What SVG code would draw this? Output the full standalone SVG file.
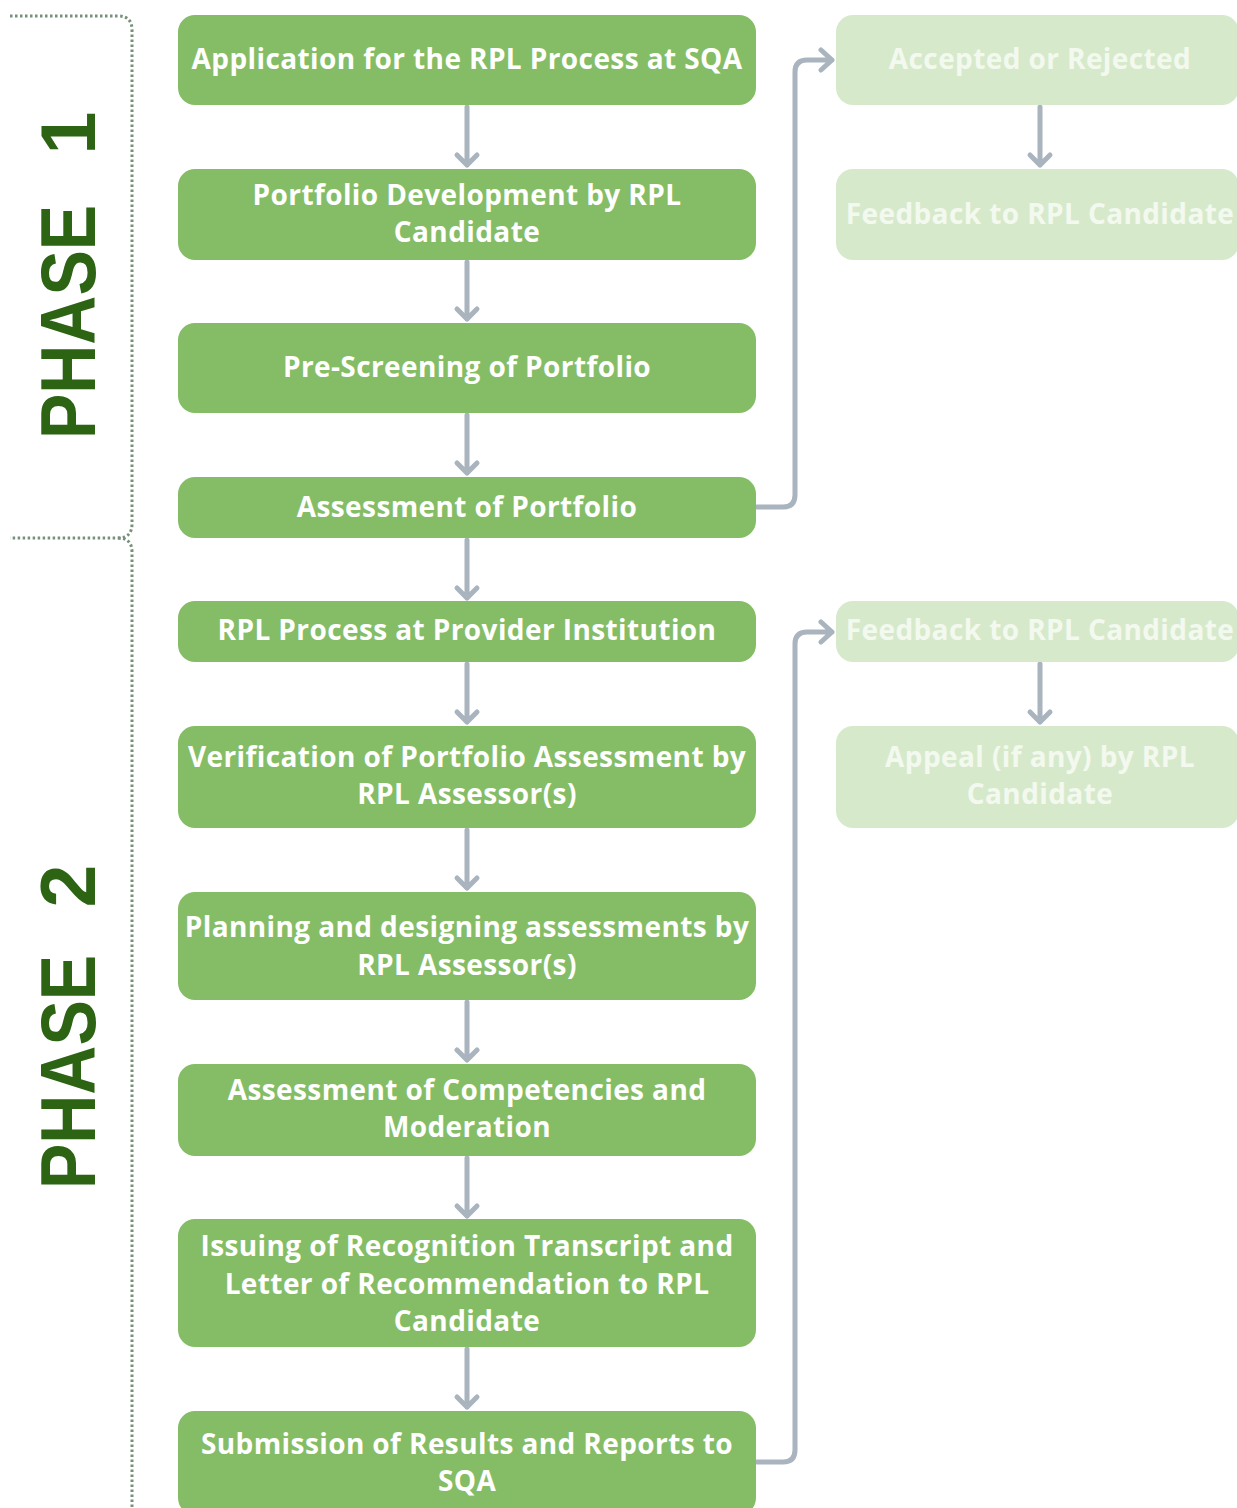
<svg xmlns="http://www.w3.org/2000/svg" width="1237" height="1508" viewBox="0 0 1237 1508">
<style>
.box{fill:#85bd66}
.lbox{fill:#d6eacb}
.t{font-family:"Open Sans","DejaVu Sans",sans-serif;font-weight:700;font-size:28px;letter-spacing:0.4px;fill:#ffffff;text-anchor:middle}
.lt{font-family:"Open Sans","DejaVu Sans",sans-serif;font-weight:700;font-size:28px;letter-spacing:0.4px;fill:#f3f9ef;text-anchor:middle}
.ph{font-family:"Liberation Sans",Arial,sans-serif;font-weight:700;font-size:77px;fill:#2c6414}
.c{fill:none;stroke:#a9b4be;stroke-width:5;stroke-linecap:round;stroke-linejoin:round}
.dot{fill:none;stroke:#76907a;stroke-width:3;stroke-dasharray:2.5 2.5}
</style>
<g id="brackets">
<path class="dot" d="M10,16 H118 Q132,16 132,30 V524 Q132,538 118,538 H10"/>
<path class="dot" d="M118,538 Q132,538 132,552 V1508"/>
</g>
<g id="phase1">
<text class="ph" transform="translate(95,439) rotate(-90)" textLength="234" lengthAdjust="spacingAndGlyphs">PHASE</text>
<text class="ph" transform="translate(95,133) rotate(-90)" text-anchor="middle">1</text>
</g>
<g id="phase2">
<text class="ph" transform="translate(95,1189) rotate(-90)" textLength="234" lengthAdjust="spacingAndGlyphs">PHASE</text>
<text class="ph" transform="translate(95,886) rotate(-90)" text-anchor="middle">2</text>
</g>
<g id="connectors">
<path class="c" d="M467,107 V165 M457,155 L467,165 L477,155"/>
<path class="c" d="M467,262 V319 M457,309 L467,319 L477,309"/>
<path class="c" d="M467,415 V473 M457,463 L467,473 L477,463"/>
<path class="c" d="M467,540 V598 M457,588 L467,598 L477,588"/>
<path class="c" d="M467,664 V722 M457,712 L467,722 L477,712"/>
<path class="c" d="M467,830 V888 M457,878 L467,888 L477,878"/>
<path class="c" d="M467,1002 V1060 M457,1050 L467,1060 L477,1050"/>
<path class="c" d="M467,1158 V1216 M457,1206 L467,1216 L477,1206"/>
<path class="c" d="M467,1349 V1407 M457,1397 L467,1407 L477,1397"/>
<path class="c" d="M1040,107 V165 M1030,155 L1040,165 L1050,155"/>
<path class="c" d="M1040,664 V722 M1030,712 L1040,722 L1050,712"/>
<path class="c" d="M757,507 H783 Q795,507 795,495 V72 Q795,60 807,60 H832 M821,50 L832,60 L821,70"/>
<path class="c" d="M757,1462 H783 Q795,1462 795,1450 V644 Q795,632 807,632 H832 M821,622 L832,632 L821,642"/>
</g>
<g id="n1"><rect class="box" x="178" y="15" width="578" height="90" rx="17"/><text class="t" x="467" y="69">Application for the RPL Process at SQA</text></g>
<g id="n2"><rect class="box" x="178" y="169" width="578" height="91" rx="17"/><text class="t" x="467" y="205">Portfolio Development by RPL</text><text class="t" x="467" y="242">Candidate</text></g>
<g id="n3"><rect class="box" x="178" y="323" width="578" height="90" rx="17"/><text class="t" x="467" y="377">Pre-Screening of Portfolio</text></g>
<g id="n4"><rect class="box" x="178" y="477" width="578" height="61" rx="17"/><text class="t" x="467" y="517">Assessment of Portfolio</text></g>
<g id="n5"><rect class="box" x="178" y="601" width="578" height="61" rx="17"/><text class="t" x="467" y="640">RPL Process at Provider Institution</text></g>
<g id="n6"><rect class="box" x="178" y="726" width="578" height="102" rx="17"/><text class="t" x="467" y="767">Verification of Portfolio Assessment by</text><text class="t" x="467" y="804">RPL Assessor(s)</text></g>
<g id="n7"><rect class="box" x="178" y="892" width="578" height="108" rx="17"/><text class="t" x="467" y="937">Planning and designing assessments by</text><text class="t" x="467" y="975">RPL Assessor(s)</text></g>
<g id="n8"><rect class="box" x="178" y="1064" width="578" height="92" rx="17"/><text class="t" x="467" y="1100">Assessment of Competencies and</text><text class="t" x="467" y="1137">Moderation</text></g>
<g id="n9"><rect class="box" x="178" y="1219" width="578" height="128" rx="17"/><text class="t" x="467" y="1256">Issuing of Recognition Transcript and</text><text class="t" x="467" y="1294">Letter of Recommendation to RPL</text><text class="t" x="467" y="1331">Candidate</text></g>
<g id="n10"><rect class="box" x="178" y="1411" width="578" height="104" rx="17"/><text class="t" x="467" y="1454">Submission of Results and Reports to</text><text class="t" x="467" y="1491">SQA</text></g>
<g id="r1"><rect class="lbox" x="836" y="15" width="403" height="90" rx="17"/><text class="lt" x="1040" y="69">Accepted or Rejected</text></g>
<g id="r2"><rect class="lbox" x="836" y="169" width="403" height="91" rx="17"/><text class="lt" x="1040" y="224">Feedback to RPL Candidate</text></g>
<g id="r3"><rect class="lbox" x="836" y="601" width="403" height="61" rx="17"/><text class="lt" x="1040" y="640">Feedback to RPL Candidate</text></g>
<g id="r4"><rect class="lbox" x="836" y="726" width="403" height="102" rx="17"/><text class="lt" x="1040" y="767">Appeal (if any) by RPL</text><text class="lt" x="1040" y="804">Candidate</text></g>
</svg>
